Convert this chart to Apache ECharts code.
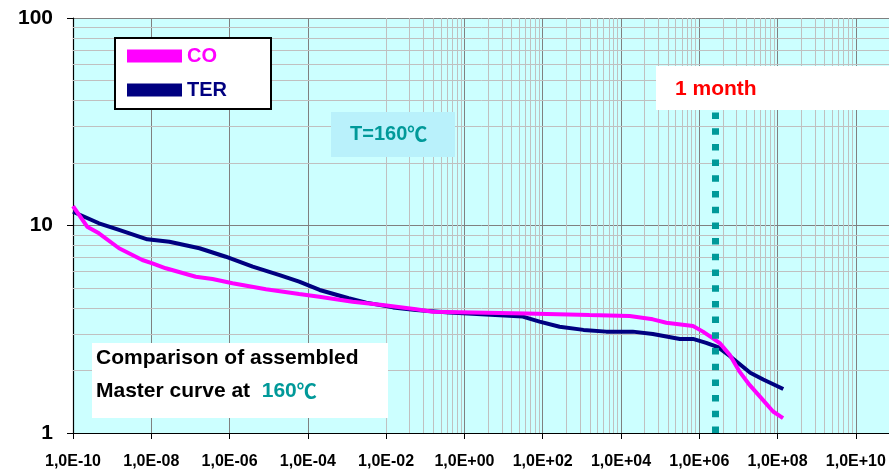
<!DOCTYPE html>
<html>
<head>
<meta charset="utf-8">
<script src="https://cdn.jsdelivr.net/npm/echarts@6/dist/echarts.min.js"></script>
<style>
html,body{margin:0;padding:0;background:#fff;}
#chart{width:889px;height:475px;}
</style>
</head>
<body>
<div id="chart"></div>
<script>
// ---- data ----
const seriesNames = ['CO', 'TER'];
const xCO = [1.0e-10, 2.3e-10, 4.6e-10, 1.5e-9, 5.9e-9, 1.07e-8, 2.35e-8, 1.37e-7, 3.66e-7, 1.19e-6, 8.5e-6, 6.0e-5, 1.96e-4, 1.39e-3, 8.1e-3, 5.8e-2, 0.152, 38, 1.57e3, 1.66e4, 6.5e4, 1.44e5, 6.9e5, 1.24e6, 2.24e6, 3.33e6, 6.0e6, 1.08e7, 1.95e7, 4.26e7, 7.67e7, 1.38e8];
const yCO = [12.4, 9.87, 9.17, 7.77, 6.82, 6.57, 6.22, 5.66, 5.52, 5.27, 4.93, 4.68, 4.54, 4.29, 4.14, 3.95, 3.84, 3.77, 3.70, 3.66, 3.53, 3.40, 3.28, 3.08, 2.86, 2.71, 2.38, 1.97, 1.70, 1.44, 1.27, 1.18];
const xTER = [1.0e-10, 4.6e-10, 1.5e-9, 7.9e-9, 2.9e-8, 1.7e-7, 8.0e-7, 3.9e-6, 1.9e-5, 6.0e-5, 2.0e-4, 1.1e-3, 3.1e-3, 1.5e-2, 5.8e-2, 0.41, 31, 83, 270, 1.1e3, 4.2e3, 2.0e4, 6.5e4, 3.2e5, 6.9e5, 1.5e6, 3.0e6, 6.0e6, 2.0e7, 4.3e7, 1.4e8];
const yTER = [11.65, 10.25, 9.52, 8.58, 8.35, 7.77, 7.07, 6.33, 5.77, 5.36, 4.89, 4.46, 4.25, 4.03, 3.91, 3.81, 3.64, 3.44, 3.25, 3.14, 3.08, 3.08, 3.00, 2.84, 2.84, 2.72, 2.59, 2.35, 1.95, 1.81, 1.63];
const oneMonth = 2.592e6; // seconds in 30 days
const xMin = 1e-10, xMax = 1e11, yMin = 1, yMax = 100;

// ---- styling helpers ----
const FONT = '"Liberation Sans", Arial, "DejaVu Sans", sans-serif';
const CJK = '"Noto Sans CJK SC", "Liberation Sans", sans-serif';
const zip = (xs, ys) => xs.map((x, i) => [x, ys[i]]);

// minor grid values (Excel-like log-100 minor grid on x, 2..9 on y)
const minorX = [];
for (let e = -10; e < 10; e += 2) {
  for (let k = 2; k <= 9; k++) minorX.push(Math.pow(10, e) * k * k);
}
const minorY = [];
for (let d = 1; d < yMax; d *= 10) {
  for (let k = 2; k <= 9; k++) minorY.push(d * k);
}

function fmtX(v) {
  const e = Math.round(Math.log10(v));
  const s = e < 0 ? '-' : '+';
  const a = Math.abs(e);
  return '1,0E' + s + (a < 10 ? '0' + a : '' + a);
}

const chart = echarts.init(document.getElementById('chart'), null, {renderer: 'canvas'});
const option = {
  animation: false,
  backgroundColor: '#ffffff',
  grid: {
    left: 73, top: 18, bottom: 42, width: 822,
    containLabel: false, outerBoundsMode: 'none',
    show: true, backgroundColor: '#ccffff', borderWidth: 0
  },
  legend: {
    orient: 'vertical',
    left: 115, top: 38,
    data: [
      {name: 'CO', textStyle: {color: '#ff00ff'}},
      {name: 'TER', textStyle: {color: '#000080'}}
    ],
    icon: 'rect',
    itemWidth: 55, itemHeight: 13, itemGap: 14,
    padding: [8, 44, 9, 12],
    backgroundColor: '#ffffff',
    borderColor: '#000000', borderWidth: 2,
    borderRadius: 0,
    itemStyle: {borderWidth: 0},
    selectedMode: false,
    textStyle: {fontFamily: FONT, fontWeight: 'bold', fontSize: 20}
  },
  xAxis: {
    type: 'log', logBase: 10,
    min: xMin, max: xMax, interval: 2,
    axisLine: {lineStyle: {color: '#000', width: 1.2}},
    axisTick: {show: true, inside: false, length: 6, lineStyle: {color: '#000'}},
    axisLabel: {
      formatter: fmtX, margin: 21, showMaxLabel: false, hideOverlap: false,
      fontFamily: FONT, fontWeight: 'bold', fontSize: 16, color: '#000'
    },
    splitLine: {show: true, lineStyle: {color: '#808080', width: 1}},
    minorTick: {show: false}, minorSplitLine: {show: false}
  },
  yAxis: {
    type: 'log', logBase: 10,
    min: yMin, max: yMax, interval: 1,
    axisLine: {show: true, lineStyle: {color: '#000', width: 1.2}},
    axisTick: {show: true, inside: false, length: 6, lineStyle: {color: '#000'}},
    axisLabel: {
      margin: 20, fontFamily: FONT, fontWeight: 'bold', fontSize: 21, color: '#000'
    },
    splitLine: {show: true, lineStyle: {color: '#808080', width: 1}}
  },
  series: [
    {
      name: 'grid', type: 'line', data: [], silent: true,
      markLine: {
        silent: true, symbol: 'none', z: 1, animation: false,
        label: {show: false}, emphasis: {disabled: true},
        lineStyle: {color: '#c0c0c0', width: 1, type: 'solid'},
        data: minorX.map(v => ({xAxis: v})).concat(minorY.map(v => ({yAxis: v})))
      }
    },
    {
      name: 'TER', type: 'line', data: zip(xTER, yTER),
      showSymbol: false, symbol: 'none', z: 3,
      lineStyle: {color: '#000080', width: 4},
      itemStyle: {color: '#000080'}
    },
    {
      name: 'CO', type: 'line', data: zip(xCO, yCO),
      showSymbol: false, symbol: 'none', z: 4,
      lineStyle: {color: '#ff00ff', width: 4},
      itemStyle: {color: '#ff00ff'},
      markLine: {
        silent: true, symbol: 'none', z: 5, animation: false,
        label: {show: false}, emphasis: {disabled: true},
        lineStyle: {color: '#009999', width: 7, type: [6.5, 9.2], cap: 'butt'},
        data: [[{coord: [oneMonth, yMin]}, {coord: [oneMonth, 56]}]]
      }
    }
  ],
  graphic: [
    {type: 'rect', z: 100, shape: {x: 656, y: 66, width: 240, height: 44}, style: {fill: '#ffffff'}},
    {type: 'text', z: 101, x: 675, y: 89, style: {text: '1 month', fill: '#ff0000', font: 'bold 21px ' + FONT, verticalAlign: 'middle'}},
    {type: 'rect', z: 100, shape: {x: 331, y: 112, width: 124, height: 45}, style: {fill: '#b9f1fb'}},
    {type: 'text', z: 101, x: 350, y: 134, style: {
      text: '{a|T=160}{b|℃}', verticalAlign: 'middle',
      rich: {
        a: {fill: '#009999', fontFamily: FONT, fontWeight: 'bold', fontSize: 20},
        b: {fill: '#009999', fontFamily: CJK, fontWeight: 'bold', fontSize: 20}
      }
    }},
    {type: 'rect', z: 100, shape: {x: 92, y: 343, width: 296, height: 75}, style: {fill: '#ffffff'}},
    {type: 'text', z: 101, x: 96, y: 358, style: {text: 'Comparison of assembled', fill: '#000', font: 'bold 21px ' + FONT, verticalAlign: 'middle'}},
    {type: 'text', z: 101, x: 96, y: 391, style: {
      text: '{a|Master curve at  }{b|160}{c|℃}', verticalAlign: 'middle',
      rich: {
        a: {fill: '#000', fontFamily: FONT, fontWeight: 'bold', fontSize: 21},
        b: {fill: '#009999', fontFamily: FONT, fontWeight: 'bold', fontSize: 21},
        c: {fill: '#009999', fontFamily: CJK, fontWeight: 'bold', fontSize: 20}
      }
    }}
  ]
};
chart.setOption(option);
</script>
</body>
</html>
